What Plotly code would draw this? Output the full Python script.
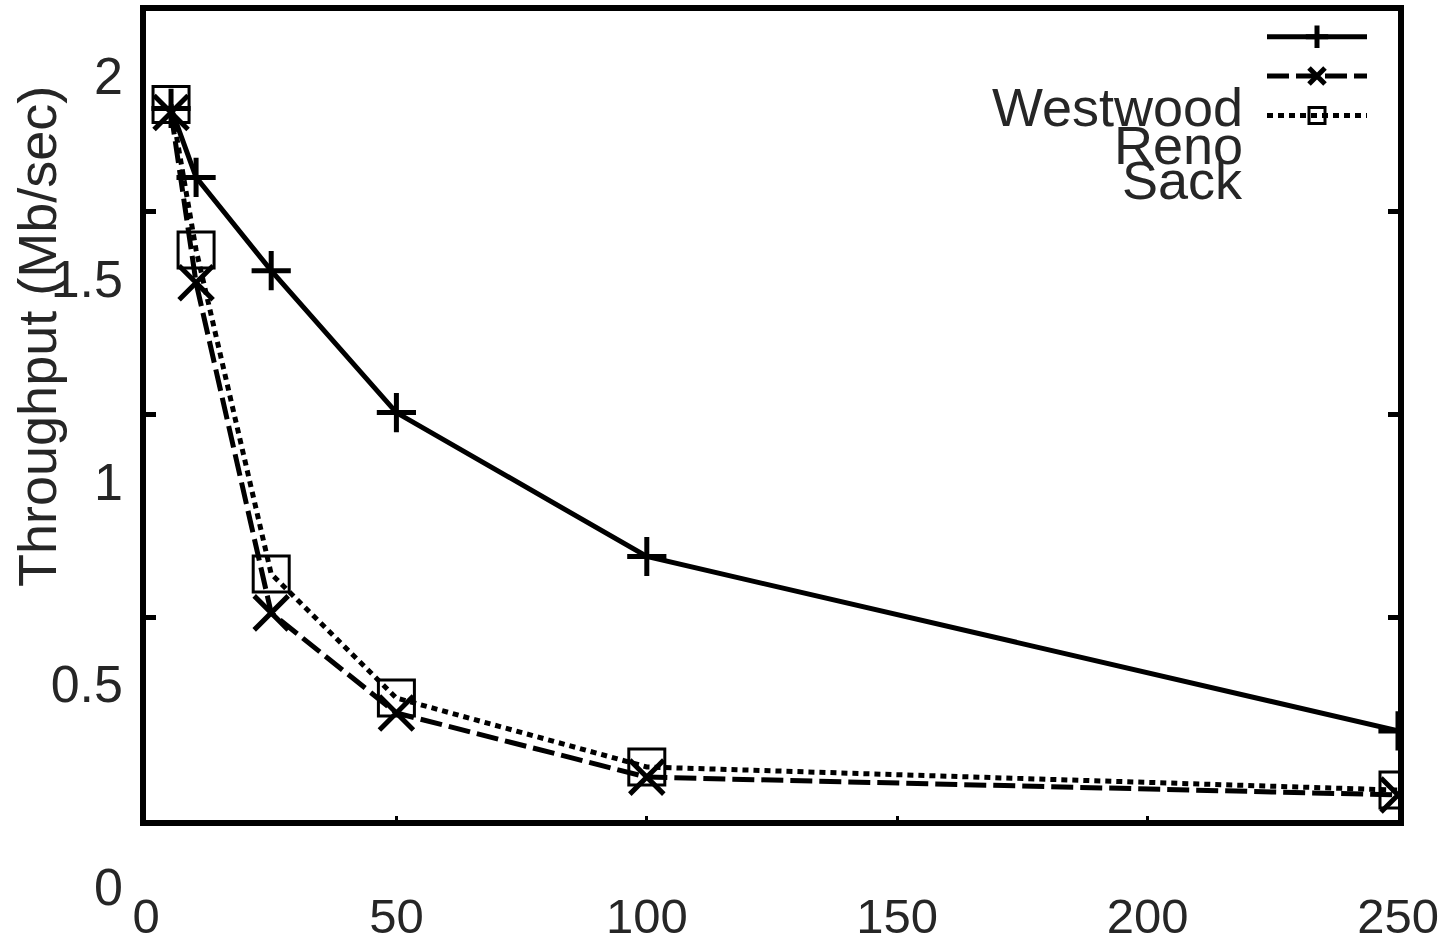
import plotly.graph_objects as go

# ---- data ----
x_vals = [5, 10, 25, 50, 100, 250]
westwood = [1.92, 1.75, 1.52, 1.17, 0.815, 0.385]
reno = [1.91, 1.49, 0.676, 0.429, 0.271, 0.227]
sack = [1.93, 1.571, 0.772, 0.466, 0.296, 0.239]
series_names = ["Westwood", "Reno", "Sack"]
x_ticks = [0, 50, 100, 150, 200, 250]
y_ticks = [0, 0.5, 1, 1.5, 2]
y_ticktext = ["0", "0.5", "1", "1.5", "2"]
y_title = "Throughput (Mb/sec)"

W, H = 1451, 943
L, R, T, B = 146, 53, 11, 56
pw, ph = W - L - R, H - T - B
frame_bottom_px = 820

def px_x(p):
    return (p - L) / pw

def px_y(p):
    return (H - B - p) / ph

FONT = "Liberation Sans, Arial, sans-serif"
TXT = "#262626"

fig = go.Figure()
styles = [
    dict(dash="solid", width=5, symbol="cross-thin", size=28, mlw=5),
    dict(dash="22px,7px", width=5, symbol="x-thin", size=34, mlw=5),
    dict(dash="6px,5px", width=5, symbol="square-open", size=36, mlw=3),
]
for name, ys, st in zip(series_names, [westwood, reno, sack], styles):
    fig.add_trace(go.Scatter(
        x=x_vals, y=ys, mode="lines+markers", name=" ",
        line=dict(color="black", width=st["width"], dash=st["dash"]),
        marker=dict(symbol=st["symbol"], size=st["size"], color="black",
                    line=dict(color="black", width=st["mlw"])),
        hovertemplate=name + ": %{y}<extra></extra>",
    ))

# empty trace for the frame axes
fig.add_trace(go.Scatter(x=[], y=[], xaxis="x2", yaxis="y2", showlegend=False))

ymax = (H - B - T) / 405.5
fig.update_layout(
    width=W, height=H,
    margin=dict(l=L, r=R, t=T, b=B, autoexpand=False),
    paper_bgcolor="white", plot_bgcolor="rgba(0,0,0,0)",
    font=dict(family=FONT, size=52, color=TXT),
    xaxis=dict(range=[0, 250], domain=[0, 1], tickvals=x_ticks, showgrid=False,
               zeroline=False, showline=False, ticks="", ticklabelstandoff=-4,
               tickfont=dict(size=49, color=TXT)),
    yaxis=dict(range=[0, ymax], domain=[0, 1], tickvals=y_ticks, ticktext=y_ticktext,
               showgrid=False, zeroline=False, showline=False, ticks="",
               ticklabelstandoff=22, tickfont=dict(size=52, color=TXT)),
    xaxis2=dict(range=[0, 250], domain=[0, 1], anchor="y2", dtick=50, tick0=0,
                showticklabels=False, ticks="inside", ticklen=4, tickwidth=3,
                tickcolor="black", showline=True, linewidth=6, linecolor="black",
                mirror=True, showgrid=False, zeroline=False),
    yaxis2=dict(range=[0, (frame_bottom_px - T) / 405.5], domain=[px_y(frame_bottom_px), 1],
                anchor="x2", dtick=0.5, tick0=0, showticklabels=False, ticks="inside",
                ticklen=10, tickwidth=5, tickcolor="black", showline=True, linewidth=6,
                linecolor="black", mirror="ticks", showgrid=False, zeroline=False),
    showlegend=True,
    legend=dict(x=px_x(1262), y=px_y(12), xanchor="left", yanchor="top",
                bgcolor="rgba(0,0,0,0)", borderwidth=0, itemwidth=100,
                font=dict(size=28, color=TXT), traceorder="normal",
                itemclick=False, itemdoubleclick=False),
    annotations=[
        dict(text=series_names[0], xref="paper", yref="paper", x=px_x(1245), y=px_y(107),
             xanchor="right", yanchor="middle", showarrow=False, font=dict(size=54, color=TXT)),
        dict(text=series_names[1], xref="paper", yref="paper", x=px_x(1245), y=px_y(145),
             xanchor="right", yanchor="middle", showarrow=False, font=dict(size=54, color=TXT)),
        dict(text=series_names[2], xref="paper", yref="paper", x=px_x(1245), y=px_y(180),
             xanchor="right", yanchor="middle", showarrow=False, font=dict(size=54, color=TXT)),
        dict(text=y_title, xref="paper", yref="paper", x=px_x(37), y=px_y(337),
             xanchor="center", yanchor="middle", textangle=-90, showarrow=False,
             font=dict(size=54, color=TXT)),
    ],
)

fig.write_html("out.html")
